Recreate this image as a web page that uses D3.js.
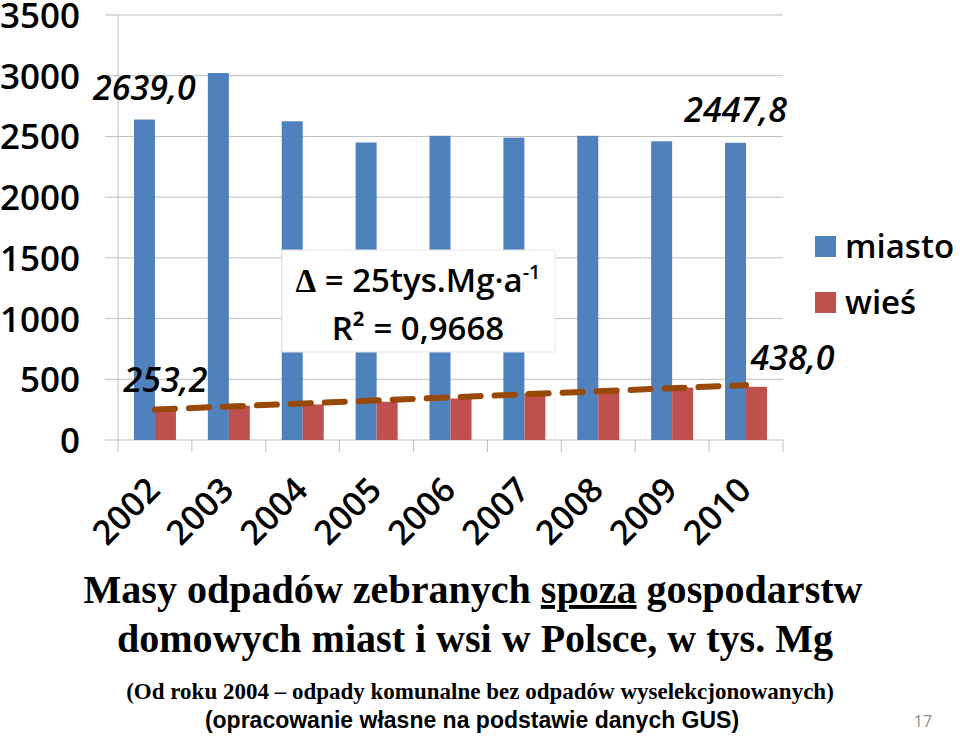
<!DOCTYPE html>
<html>
<head>
<meta charset="utf-8">
<script src="https://cdn.jsdelivr.net/npm/d3@7"></script>
<style>
  body { margin: 0; background: #fff; }
  svg { display: block; }
</style>
</head>
<body>
<svg id="chart"></svg>
<script>
const years = ["2002", "2003", "2004", "2005", "2006", "2007", "2008", "2009", "2010"];
const miasto = [2639.0, 3022, 2625, 2450, 2505, 2490, 2505, 2460, 2447.8];
const wies = [253.2, 283, 293, 315, 342, 385, 420, 432, 438.0];
const yTicks = [0, 500, 1000, 1500, 2000, 2500, 3000, 3500];
const seriesNames = ["miasto", "wieś"];
const seriesColors = ["#4F81BD", "#C0504D"];

const width = 960;
const height = 737;
const font = "'Open Sans', Carlito, Lato, sans-serif";
const serif = "'Liberation Serif', 'Times New Roman', serif";

const svg = d3.select("#chart").attr("width", width).attr("height", height);

const x = d3.scaleBand().domain(years).range([118, 783]).paddingInner(0).paddingOuter(0);
const y = d3.scaleLinear().domain([0, 3500]).range([440, 15]);
const barW = 21;

// gridlines + tick stubs
svg.append("g")
  .selectAll("line")
  .data(yTicks)
  .join("line")
  .attr("x1", 105)
  .attr("x2", 783)
  .attr("y1", (d) => y(d))
  .attr("y2", (d) => y(d))
  .attr("stroke", "#bfbfbf")
  .attr("stroke-width", 1);

svg.append("line")
  .attr("x1", 118).attr("x2", 118)
  .attr("y1", y(3500)).attr("y2", y(0))
  .attr("stroke", "#bfbfbf");

// category ticks
svg.append("g")
  .selectAll("line")
  .data(years.concat(["end"]))
  .join("line")
  .attr("x1", (d, i) => 118 + i * x.bandwidth())
  .attr("x2", (d, i) => 118 + i * x.bandwidth())
  .attr("y1", y(0))
  .attr("y2", y(0) + 12)
  .attr("stroke", "#bfbfbf");

// y labels
svg.append("g")
  .selectAll("text")
  .data(yTicks)
  .join("text")
  .attr("x", 80)
  .attr("y", (d) => y(d))
  .attr("dy", "0.37em")
  .attr("text-anchor", "end")
  .attr("font-family", font)
  .attr("font-weight", 600)
  .attr("font-size", "35px")
  .attr("fill", "#000")
  .text((d) => d);

// bars
const cx = (d) => x(d) + x.bandwidth() / 2;
svg.append("g")
  .selectAll("rect")
  .data(years)
  .join("rect")
  .attr("x", (d) => cx(d) - barW)
  .attr("y", (d, i) => y(miasto[i]))
  .attr("width", barW)
  .attr("height", (d, i) => y(0) - y(miasto[i]))
  .attr("fill", seriesColors[0]);

svg.append("g")
  .selectAll("rect")
  .data(years)
  .join("rect")
  .attr("x", (d) => cx(d))
  .attr("y", (d, i) => y(wies[i]))
  .attr("width", barW)
  .attr("height", (d, i) => y(0) - y(wies[i]))
  .attr("fill", seriesColors[1]);

// linear trend for wieś
const n = wies.length;
const mx = d3.mean(wies, (d, i) => i);
const my = d3.mean(wies);
const slope = d3.sum(wies, (d, i) => (i - mx) * (d - my)) / d3.sum(wies, (d, i) => (i - mx) ** 2);
const icpt = my - slope * mx;
const trend = d3.line()
  .x((d) => cx(years[d]))
  .y((d) => y(icpt + slope * d));
svg.append("path")
  .attr("d", trend([0, n - 1]))
  .attr("fill", "none")
  .attr("stroke", "#984807")
  .attr("stroke-width", 6)
  .attr("stroke-linecap", "round")
  .attr("stroke-dasharray", "20 14");

// equation box
const box = svg.append("g");
box.append("rect")
  .attr("x", 282)
  .attr("y", 250)
  .attr("width", 273)
  .attr("height", 102)
  .attr("fill", "#fff")
  .attr("stroke", "#e6e6e6");
const eq1 = box.append("text")
  .attr("x", 418)
  .attr("y", 292)
  .attr("text-anchor", "middle")
  .attr("font-family", font)
  .attr("font-weight", 600)
  .attr("font-size", "33px");
eq1.append("tspan").attr("font-family", serif).attr("font-weight", "bold").text("Δ");
eq1.append("tspan").text(" = 25tys.Mg·a");
eq1.append("tspan").attr("font-size", "20px").attr("dy", "-13").text("-1");
const eq2 = box.append("text")
  .attr("x", 418)
  .attr("y", 340)
  .attr("text-anchor", "middle")
  .attr("font-family", font)
  .attr("font-weight", 600)
  .attr("font-size", "33px");
eq2.append("tspan").text("R² = 0,9668");

// data labels
const lbl = (txt, xx, yy) =>
  svg.append("text")
    .attr("x", xx)
    .attr("y", yy)
    .attr("text-anchor", "middle")
    .attr("font-family", font)
    .attr("font-weight", 600)
    .attr("font-style", "italic")
    .attr("font-size", "34px")
    .attr("fill", "#000")
    .text(txt);
const fmt = (v) => v.toFixed(1).replace(".", ",");
lbl(fmt(miasto[0]), cx(years[0]) - barW / 2, y(miasto[0]) - 20);
lbl(fmt(miasto[n - 1]), cx(years[n - 1]) - barW / 2, y(miasto[n - 1]) - 21);
lbl(fmt(wies[0]), cx(years[0]) + barW / 2, y(wies[0]) - 17);
lbl(fmt(wies[n - 1]), cx(years[n - 1]) + barW / 2 + 36, y(wies[n - 1]) - 17);

// x labels
svg.append("g")
  .selectAll("text")
  .data(years)
  .join("text")
  .attr("transform", (d) => `translate(${cx(d) + 7},${492}) rotate(-45)`)
  .attr("text-anchor", "end")
  .attr("font-family", font)
  .attr("font-weight", 600)
  .attr("font-size", "34px")
  .text((d) => d);

// legend
const leg = svg.append("g");
seriesNames.forEach((name, i) => {
  leg.append("rect")
    .attr("x", 815)
    .attr("y", 236 + i * 56)
    .attr("width", 21)
    .attr("height", 21)
    .attr("fill", seriesColors[i]);
  leg.append("text")
    .attr("x", 845)
    .attr("y", 258 + i * 56)
    .attr("font-family", font)
    .attr("font-weight", 600)
    .attr("font-size", "33px")
    .text(name);
});

// title
const t1 = svg.append("text")
  .attr("x", 473)
  .attr("y", 603)
  .attr("text-anchor", "middle")
  .attr("font-family", serif)
  .attr("font-weight", "bold")
  .attr("font-size", "39px")
  .attr("textLength", 779)
  .attr("lengthAdjust", "spacingAndGlyphs");
t1.append("tspan").text("Masy odpadów zebranych ");
t1.append("tspan").attr("text-decoration", "underline").text("spoza");
t1.append("tspan").text(" gospodarstw");
svg.append("text")
  .attr("x", 475)
  .attr("y", 652)
  .attr("text-anchor", "middle")
  .attr("font-family", serif)
  .attr("font-weight", "bold")
  .attr("font-size", "39px")
  .attr("textLength", 716)
  .attr("lengthAdjust", "spacingAndGlyphs")
  .text("domowych miast i wsi w Polsce, w tys. Mg");

svg.append("text")
  .attr("x", 480)
  .attr("y", 699)
  .attr("text-anchor", "middle")
  .attr("font-family", serif)
  .attr("font-weight", "bold")
  .attr("font-size", "23px")
  .text("(Od roku 2004 – odpady komunalne bez odpadów wyselekcjonowanych)");

svg.append("text")
  .attr("x", 472)
  .attr("y", 728)
  .attr("text-anchor", "middle")
  .attr("font-family", "'Liberation Sans', Arial, sans-serif")
  .attr("font-weight", "bold")
  .attr("font-size", "23px")
  .text("(opracowanie własne na podstawie danych GUS)");

svg.append("text")
  .attr("x", 923)
  .attr("y", 727)
  .attr("text-anchor", "middle")
  .attr("font-family", font)
  .attr("font-size", "16px")
  .attr("fill", "#8c8c8c")
  .text("17");
</script>
</body>
</html>
